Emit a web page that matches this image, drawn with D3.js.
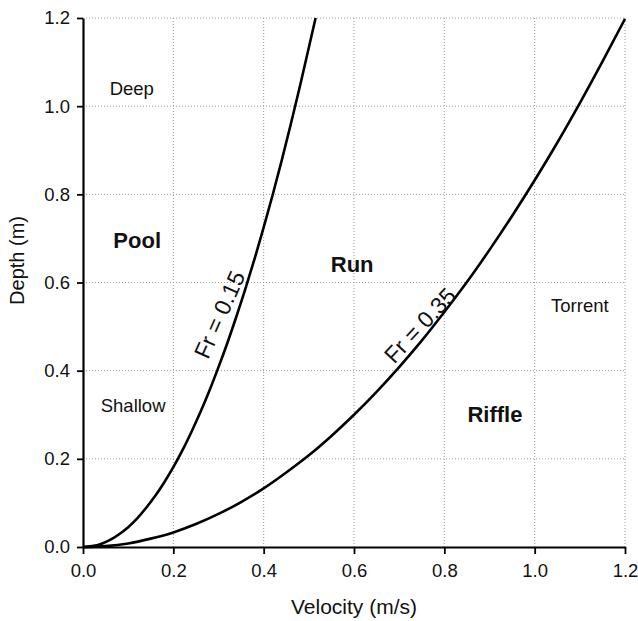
<!DOCTYPE html>
<html>
<head>
<meta charset="utf-8">
<script src="https://cdn.jsdelivr.net/npm/d3@7"></script>
<style>
  body { margin: 0; background: #fff; }
  svg { font-family: "Liberation Sans", Arial, sans-serif; }
</style>
</head>
<body>
<svg id="chart" width="638" height="621"></svg>
<script>
// values
const xTicks = [0, 0.2, 0.4, 0.6, 0.8, 1.0, 1.2];
const yTicks = [0, 0.2, 0.4, 0.6, 0.8, 1.0, 1.2];

// Fr = 0.15 curve
const fr15V = [0, 0.02, 0.04, 0.06, 0.08, 0.10, 0.12, 0.14, 0.16, 0.18, 0.20, 0.22, 0.24, 0.26, 0.28, 0.30, 0.32, 0.34, 0.36, 0.38, 0.40, 0.42, 0.44, 0.46, 0.48, 0.50, 0.515];
const fr15D = [0, 0.002, 0.007, 0.016, 0.029, 0.045, 0.065, 0.089, 0.116, 0.147, 0.181, 0.219, 0.261, 0.306, 0.355, 0.408, 0.464, 0.524, 0.587, 0.654, 0.725, 0.799, 0.877, 0.959, 1.044, 1.133, 1.20];

// Fr = 0.35 curve
const fr35V = [0, 0.05, 0.1, 0.15, 0.2, 0.25, 0.3, 0.35, 0.4, 0.45, 0.5, 0.55, 0.6, 0.65, 0.7, 0.75, 0.8, 0.85, 0.9, 0.95, 1.0, 1.05, 1.1, 1.15, 1.2];
const fr35D = [0, 0.002, 0.008, 0.019, 0.033, 0.052, 0.075, 0.102, 0.133, 0.169, 0.208, 0.252, 0.300, 0.352, 0.408, 0.468, 0.533, 0.601, 0.674, 0.751, 0.832, 0.917, 1.007, 1.101, 1.198];

// region labels [text, v, d, bold]
const regionLabels = [
  ["Deep", 0.108, 1.025, false],
  ["Pool", 0.12, 0.678, true],
  ["Shallow", 0.111, 0.306, false],
  ["Run", 0.596, 0.624, true],
  ["Torrent", 1.10, 0.533, false],
  ["Riffle", 0.912, 0.284, true]
];
// curve labels [text, v, d, angle]
const curveLabels = [
  ["Fr = 0.15", 0.302, 0.527, -66],
  ["Fr = 0.35", 0.746, 0.503, -47]
];

const W = 638, H = 621;
const margin = { top: 18, right: 13, bottom: 74, left: 83 };

const svg = d3.select("#chart");
const x = d3.scaleLinear().domain([0, 1.2]).range([margin.left, W - margin.right]);
const y = d3.scaleLinear().domain([0, 1.2]).range([H - margin.bottom, margin.top]);

// grid
const grid = svg.append("g").attr("stroke", "#9a9a9a").attr("stroke-width", 1).attr("stroke-dasharray", "1,2");
grid.selectAll(".gx").data(xTicks.slice(1)).join("line")
  .attr("x1", d => x(d)).attr("x2", d => x(d))
  .attr("y1", y(0)).attr("y2", y(1.2));
grid.selectAll(".gy").data(yTicks.slice(1)).join("line")
  .attr("y1", d => y(d)).attr("y2", d => y(d))
  .attr("x1", x(0)).attr("x2", x(1.2));

// curves
const line = d3.line().x(d => x(d[0])).y(d => y(d[1])).curve(d3.curveMonotoneX);
const series = [d3.zip(fr15V, fr15D), d3.zip(fr35V, fr35D)];
svg.append("g").selectAll("path").data(series).join("path")
  .attr("d", line)
  .attr("fill", "none")
  .attr("stroke", "#000")
  .attr("stroke-width", 2.6);

// axes
const xAxis = svg.append("g")
  .attr("transform", `translate(0,${y(0)})`)
  .call(d3.axisBottom(x).tickValues(xTicks).tickFormat(d3.format(".1f")).tickSize(7).tickSizeOuter(0).tickPadding(10));
const yAxis = svg.append("g")
  .attr("transform", `translate(${x(0)},0)`)
  .call(d3.axisLeft(y).tickValues(yTicks).tickFormat(d3.format(".1f")).tickSize(6).tickSizeOuter(0).tickPadding(7));
[xAxis, yAxis].forEach(a => {
  a.select(".domain").attr("stroke-width", 2.2);
  a.selectAll(".tick line").attr("stroke-width", 1.8);
  a.selectAll(".tick text").attr("font-size", 18.5).attr("fill", "#111");
  a.attr("font-family", null);
});

// axis titles
svg.append("text")
  .attr("x", x(0.6)).attr("y", 614)
  .attr("text-anchor", "middle").attr("font-size", 21).attr("fill", "#111")
  .text("Velocity (m/s)");
svg.append("text")
  .attr("transform", `translate(24,${y(0.65)}) rotate(-90)`)
  .attr("text-anchor", "middle").attr("font-size", 20).attr("fill", "#111")
  .text("Depth (m)");

// region labels
svg.append("g").selectAll("text").data(regionLabels).join("text")
  .attr("x", d => x(d[1])).attr("y", d => y(d[2]))
  .attr("text-anchor", "middle")
  .attr("font-size", d => d[3] ? 22 : 18.5)
  .attr("font-weight", d => d[3] ? "bold" : "normal")
  .attr("fill", "#111")
  .text(d => d[0]);

// curve labels
svg.append("g").selectAll("text").data(curveLabels).join("text")
  .attr("transform", d => `translate(${x(d[1])},${y(d[2])}) rotate(${d[3]})`)
  .attr("text-anchor", "middle").attr("dy", "0.35em")
  .attr("font-size", 23).attr("fill", "#111")
  .text(d => d[0]);
</script>
</body>
</html>
